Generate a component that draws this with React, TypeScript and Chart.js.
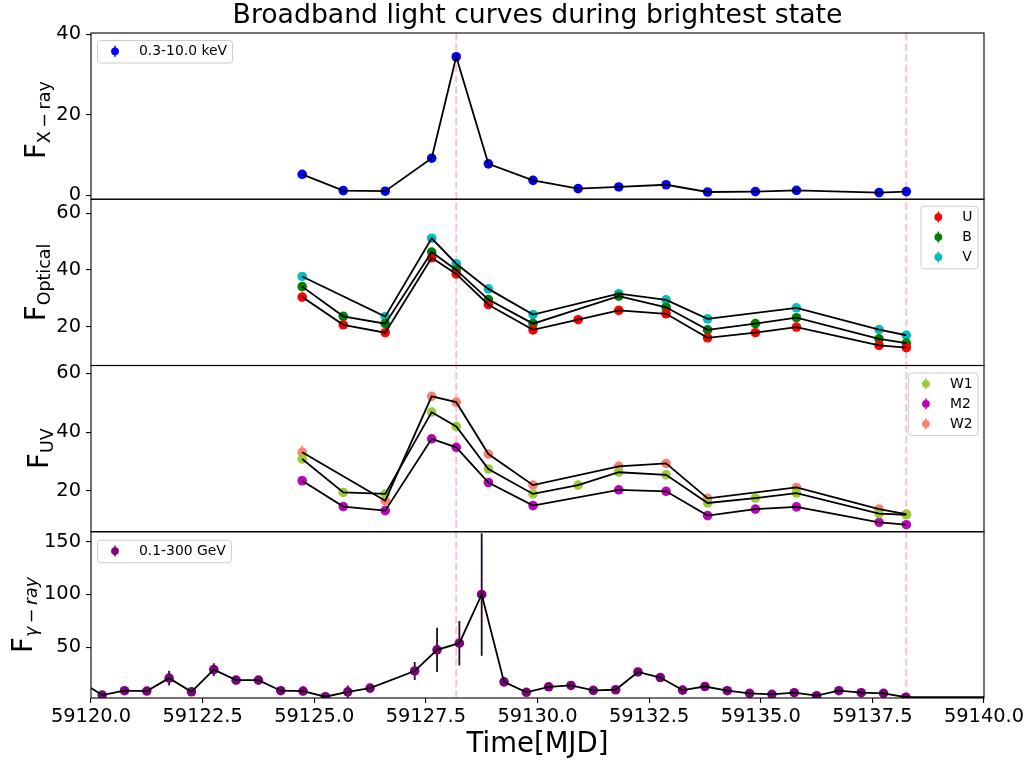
import React, { useEffect, useRef } from 'react';
import { Chart, registerables } from 'chart.js';

Chart.register(...registerables);

// ---------------- data ----------------
const chartTitle = 'Broadband light curves during brightest state';
const xTitle = 'Time[MJD]';
const xMin = 59120;
const xMax = 59140;
const xTicks = [59120, 59122.5, 59125, 59127.5, 59130, 59132.5, 59135, 59137.5, 59140];
const flareTimes = [59128.18, 59138.26];

// X-ray panel
const xrayLabel = '0.3-10.0 keV';
const xrayTicks = [0, 20, 40];
const xrayLimits = [-1.0, 40.3];
const xrayTime = [59124.73, 59125.65, 59126.59, 59127.63, 59128.18, 59128.9, 59129.9, 59130.91, 59131.82, 59132.88, 59133.81, 59134.88, 59135.8, 59137.65, 59138.26];
const xrayFlux = [5.2, 1.15, 1.0, 9.2, 34.4, 7.8, 3.7, 1.65, 2.05, 2.6, 0.8, 0.9, 1.2, 0.65, 0.9];

// Optical panel
const opticalTicks = [20, 40, 60];
const opticalLimits = [6.2, 65.0];
const uTime = [59124.73, 59125.65, 59126.59, 59127.63, 59128.18, 59128.9, 59129.9, 59130.91, 59131.82, 59132.88, 59133.81, 59134.88, 59135.8, 59137.65, 59138.26];
const uFlux = [30.4, 20.6, 17.8, 44.3, 38.6, 27.7, 18.8, 22.4, 25.7, 24.5, 16.0, 17.8, 19.8, 13.3, 12.5];
const bTime = [59124.73, 59125.65, 59126.59, 59127.63, 59128.18, 59128.9, 59129.9, 59131.82, 59132.88, 59133.81, 59134.88, 59135.8, 59137.65, 59138.26];
const bFlux = [34.1, 23.6, 21.0, 46.3, 40.0, 29.5, 21.0, 30.7, 26.8, 18.8, 21.0, 23.1, 15.6, 14.1];
const vTime = [59124.73, 59126.59, 59127.63, 59128.18, 59128.9, 59129.9, 59131.82, 59132.88, 59133.81, 59135.8, 59137.65, 59138.26];
const vFlux = [37.7, 23.5, 51.2, 42.2, 33.3, 24.2, 31.6, 29.4, 22.7, 26.6, 18.9, 16.9];

// UV panel
const uvTicks = [20, 40, 60];
const uvLimits = [6.0, 62.7];
const w1Time = [59124.73, 59125.65, 59126.59, 59127.63, 59128.18, 59128.9, 59129.9, 59130.91, 59131.82, 59132.88, 59133.81, 59134.88, 59135.8, 59137.65, 59138.26];
const w1Flux = [30.8, 19.4, 18.9, 46.8, 41.9, 27.4, 18.9, 21.9, 26.3, 25.4, 15.8, 17.5, 19.2, 12.2, 11.8];
const m2Time = [59124.73, 59125.65, 59126.59, 59127.63, 59128.18, 59128.9, 59129.9, 59131.82, 59132.88, 59133.81, 59134.88, 59135.8, 59137.65, 59138.26];
const m2Flux = [23.4, 14.6, 13.2, 37.7, 34.8, 22.8, 14.9, 20.3, 19.8, 11.5, 13.7, 14.5, 9.2, 8.4];
const w2Time = [59124.73, 59126.59, 59127.63, 59128.18, 59128.9, 59129.9, 59131.82, 59132.88, 59133.81, 59135.8, 59137.65, 59138.26];
const w2Flux = [33.1, 16.6, 52.2, 50.2, 32.5, 21.9, 28.3, 29.3, 17.4, 21.1, 13.7, 12.0];
const w2Err = [2.2, 0.6, 0.6, 0.6, 0.6, 0.5, 0.5, 0.5, 0.5, 0.5, 0.5, 0.5];

// Gamma-ray panel
const gammaLabel = '0.1-300 GeV';
const gammaTicks = [50, 100, 150];
const gammaLimits = [1.9, 159.4];
const gammaTime = [59119.75, 59120.25, 59120.75, 59121.25, 59121.75, 59122.25, 59122.75, 59123.25, 59123.75, 59124.25, 59124.75, 59125.25, 59125.75, 59126.25, 59127.25, 59127.75, 59128.25, 59128.75, 59129.25, 59129.75, 59130.25, 59130.75, 59131.25, 59131.75, 59132.25, 59132.75, 59133.25, 59133.75, 59134.25, 59134.75, 59135.25, 59135.75, 59136.25, 59136.75, 59137.25, 59137.75, 59138.25, 59140.75];
const gammaFlux = [18, 4.7, 8.8, 8.5, 20.7, 7.8, 28.8, 18.8, 18.8, 8.8, 8.5, 3.1, 7.8, 11.3, 27.5, 47.5, 53.8, 100, 17.2, 7.3, 12.5, 13.8, 9.1, 9.7, 26.6, 21.3, 9.4, 12.8, 8.8, 6.3, 5.4, 6.9, 4.1, 8.8, 6.9, 6.3, 2.6, 2.9];
const gammaErr = [2, 1, 1.5, 1.5, 7, 1.5, 6, 3, 3.5, 1, 4, 1, 6, 4, 8.6, 21, 21, 58, 2, 1, 1.5, 1.5, 1, 1, 2, 2, 1, 1.5, 1, 1, 1, 1, 1, 1.5, 1, 1, 0.5, 0.5];

// ---------------- styles ----------------
const FAMILY = '"DejaVu Sans", sans-serif';
const COLORS = {
  xray: '#0000ff', U: '#ff0000', B: '#008000', V: '#00bfbf',
  W1: '#9acd32', M2: '#bf00bf', W2: '#fa8072', gamma: '#800080',
};
const CANVAS_W = 1032;
const CANVAS_H = 764;

const pts = (t: number[], f: number[]) => t.map((x, i) => ({ x, y: f[i] }));

function markerSet(label: string, t: number[], f: number[], color: string, yAxisID: string, errors?: number[], errorColor?: string) {
  return {
    label, data: pts(t, f), yAxisID, showLine: false, order: 1,
    pointRadius: 4.8, pointHoverRadius: 4.8, pointBackgroundColor: color, pointBorderColor: color, pointBorderWidth: 0,
    borderColor: color, backgroundColor: color,
    errors, errorColor: errorColor || color,
  } as any;
}
function lineSet(t: number[], f: number[], yAxisID: string) {
  return {
    label: '', data: pts(t, f), yAxisID, showLine: true, order: 0,
    pointRadius: 0, pointHoverRadius: 0, borderColor: '#000', borderWidth: 1.8, fill: false, tension: 0,
  } as any;
}

function yScale(limits: number[], ticks: number[], weight: number) {
  return {
    type: 'linear', position: 'left', stack: 'panels', stackWeight: 1, weight,
    min: limits[0], max: limits[1],
    afterBuildTicks: (s: any) => { s.ticks = ticks.map((v) => ({ value: v })); },
    afterFit: (s: any) => { s.width = 91; },
    grid: { display: true, drawOnChartArea: false, drawTicks: true, tickLength: 5, color: '#000', lineWidth: 1.1 },
    border: { display: false },
    ticks: { color: '#000', font: { size: 19.4, family: FAMILY }, padding: 5, callback: (v: any) => String(v) },
  } as any;
}

function drawYLabel(ctx: CanvasRenderingContext2D, xBase: number, yCenter: number, main: string, sub: string, italic: boolean) {
  ctx.save();
  ctx.translate(xBase, yCenter);
  ctx.rotate(-Math.PI / 2);
  const mainFont = `27.5px ${FAMILY}`;
  const subFont = `${italic ? 'italic ' : ''}17.5px ${FAMILY}`;
  ctx.font = mainFont;
  const w1 = ctx.measureText(main).width;
  ctx.font = subFont;
  const w2 = ctx.measureText(sub).width;
  const start = -(w1 + w2) / 2;
  ctx.fillStyle = '#000';
  ctx.textAlign = 'left';
  ctx.textBaseline = 'alphabetic';
  ctx.font = mainFont;
  ctx.fillText(main, start, 0);
  ctx.font = subFont;
  ctx.fillText(sub, start + w1, 5);
  ctx.restore();
}

function roundRect(ctx: CanvasRenderingContext2D, x: number, y: number, w: number, h: number, r: number) {
  ctx.beginPath();
  ctx.moveTo(x + r, y);
  ctx.lineTo(x + w - r, y);
  ctx.arcTo(x + w, y, x + w, y + r, r);
  ctx.lineTo(x + w, y + h - r);
  ctx.arcTo(x + w, y + h, x + w - r, y + h, r);
  ctx.lineTo(x + r, y + h);
  ctx.arcTo(x, y + h, x, y + h - r, r);
  ctx.lineTo(x, y + r);
  ctx.arcTo(x, y, x + r, y, r);
  ctx.closePath();
}

function drawLegend(ctx: CanvasRenderingContext2D, anchorX: number, anchorY: number, alignRight: boolean, entries: { label: string; color: string }[]) {
  ctx.save();
  ctx.font = `13.9px ${FAMILY}`;
  const tw = Math.max(...entries.map((e) => ctx.measureText(e.label).width));
  const w = 47 + tw;
  const h = 20 * entries.length + 2.5;
  const x = alignRight ? anchorX - w : anchorX;
  const y = anchorY;
  roundRect(ctx, x + 0.5, y + 0.5, w, h, 3);
  ctx.fillStyle = 'rgba(255,255,255,0.8)';
  ctx.fill();
  ctx.strokeStyle = '#cccccc';
  ctx.lineWidth = 1;
  ctx.stroke();
  entries.forEach((e, i) => {
    const cy = y + 11.3 + i * 20;
    const mx = x + 18;
    ctx.strokeStyle = e.color;
    ctx.lineWidth = 1.5;
    ctx.beginPath();
    ctx.moveTo(mx, cy - 5.5);
    ctx.lineTo(mx, cy + 5.5);
    ctx.stroke();
    ctx.fillStyle = e.color;
    ctx.beginPath();
    ctx.arc(mx, cy, 3.9, 0, Math.PI * 2);
    ctx.fill();
    ctx.fillStyle = '#000';
    ctx.textAlign = 'left';
    ctx.textBaseline = 'middle';
    ctx.fillText(e.label, x + 42, cy + 0.5);
  });
  ctx.restore();
}

const panelDefs = [
  { id: 'yX', sub: 'X\u2009\u2212\u2009ray', italic: false, base: 45, shift: 4 },
  { id: 'yO', sub: 'Optical', italic: false, base: 45, shift: 0 },
  { id: 'yU', sub: 'UV', italic: false, base: 48, shift: 0 },
  { id: 'yG', sub: '\u03b3\u2009\u2212\u2009ray', italic: true, base: 32, shift: 0 },
];

const overlayPlugin = {
  id: 'overlay',
  beforeDatasetsDraw(chart: any) {
    const ctx: CanvasRenderingContext2D = chart.ctx;
    const { left, right, top, bottom } = chart.chartArea;
    const xs = chart.scales.x;
    ctx.save();
    ctx.strokeStyle = '#ffc0cb';
    ctx.lineWidth = 2;
    ctx.setLineDash([7.4, 3.2]);
    for (const v of flareTimes) {
      const px = xs.getPixelForValue(v);
      ctx.beginPath();
      ctx.moveTo(px, top);
      ctx.lineTo(px, bottom);
      ctx.stroke();
    }
    ctx.restore();
    chart.data.datasets.forEach((ds: any) => {
      if (!ds.errors) return;
      const ys = chart.scales[ds.yAxisID];
      ctx.save();
      ctx.beginPath();
      ctx.rect(left, ys.top, right - left, ys.bottom - ys.top);
      ctx.clip();
      ctx.strokeStyle = ds.errorColor;
      ctx.lineWidth = 1.8;
      ds.data.forEach((p: any, j: number) => {
        const e = ds.errors[j];
        const px = xs.getPixelForValue(p.x);
        ctx.beginPath();
        ctx.moveTo(px, ys.getPixelForValue(p.y - e));
        ctx.lineTo(px, ys.getPixelForValue(p.y + e));
        ctx.stroke();
      });
      ctx.restore();
    });
  },
  afterDraw(chart: any) {
    const ctx: CanvasRenderingContext2D = chart.ctx;
    const { left, right } = chart.chartArea;
    // panel frames
    ctx.save();
    ctx.strokeStyle = '#000';
    ctx.lineWidth = 1.1;
    panelDefs.forEach((p) => {
      const ys = chart.scales[p.id];
      ctx.strokeRect(left, ys.top, right - left, ys.bottom - ys.top);
    });
    ctx.restore();
    // y labels
    panelDefs.forEach((p) => {
      const ys = chart.scales[p.id];
      drawYLabel(ctx, p.base, (ys.top + ys.bottom) / 2 + p.shift, 'F', p.sub, p.italic);
    });
    // legends
    const sx = chart.scales.yX, so = chart.scales.yO, su = chart.scales.yU, sg = chart.scales.yG;
    drawLegend(ctx, left + 6, sx.top + 7, false, [{ label: xrayLabel, color: COLORS.xray }]);
    drawLegend(ctx, right - 6.5, so.top + 6.5, true, [
      { label: 'U', color: COLORS.U }, { label: 'B', color: COLORS.B }, { label: 'V', color: COLORS.V },
    ]);
    drawLegend(ctx, right - 6.5, su.top + 7, true, [
      { label: 'W1', color: COLORS.W1 }, { label: 'M2', color: COLORS.M2 }, { label: 'W2', color: COLORS.W2 },
    ]);
    drawLegend(ctx, left + 6, sg.top + 8, false, [{ label: gammaLabel, color: COLORS.gamma }]);
    // titles
    ctx.save();
    ctx.fillStyle = '#000';
    ctx.textAlign = 'center';
    ctx.textBaseline = 'middle';
    ctx.font = `26.7px ${FAMILY}`;
    ctx.fillText(chartTitle, (left + right) / 2, 16);
    ctx.font = `27.5px ${FAMILY}`;
    ctx.fillText(xTitle, (left + right) / 2, 745);
    ctx.restore();
  },
};

export default function App() {
  const canvasRef = useRef<HTMLCanvasElement | null>(null);

  useEffect(() => {
    if (!canvasRef.current) return;
    const datasets = [
      markerSet('X-ray', xrayTime, xrayFlux, COLORS.xray, 'yX'),
      lineSet(xrayTime, xrayFlux, 'yX'),
      markerSet('U', uTime, uFlux, COLORS.U, 'yO'),
      markerSet('B', bTime, bFlux, COLORS.B, 'yO'),
      markerSet('V', vTime, vFlux, COLORS.V, 'yO'),
      lineSet(uTime, uFlux, 'yO'),
      lineSet(bTime, bFlux, 'yO'),
      lineSet(vTime, vFlux, 'yO'),
      markerSet('W1', w1Time, w1Flux, COLORS.W1, 'yU'),
      markerSet('M2', m2Time, m2Flux, COLORS.M2, 'yU'),
      markerSet('W2', w2Time, w2Flux, COLORS.W2, 'yU', w2Err),
      lineSet(w1Time, w1Flux, 'yU'),
      lineSet(m2Time, m2Flux, 'yU'),
      lineSet(w2Time, w2Flux, 'yU'),
      markerSet('gamma', gammaTime, gammaFlux, COLORS.gamma, 'yG', gammaErr, '#220a22'),
      lineSet(gammaTime, gammaFlux, 'yG'),
    ];
    const chart = new Chart(canvasRef.current, {
      type: 'line',
      data: { datasets },
      options: {
        responsive: false,
        devicePixelRatio: 1,
        animation: false,
        events: [],
        layout: { padding: { top: 33, right: CANVAS_W - 984, bottom: 0, left: 0 } },
        plugins: { legend: { display: false }, tooltip: { enabled: false }, title: { display: false } },
        scales: {
          x: {
            type: 'linear', position: 'bottom', min: xMin, max: xMax,
            afterBuildTicks: (s: any) => { s.ticks = xTicks.map((v) => ({ value: v })); },
            afterFit: (s: any) => { s.height = CANVAS_H - 698; },
            grid: { display: true, drawOnChartArea: false, drawTicks: true, tickLength: 5, color: '#000', lineWidth: 1.1 },
            border: { display: false },
            ticks: { color: '#000', font: { size: 19.4, family: FAMILY }, padding: 2, maxRotation: 0, autoSkip: false, callback: (v: any) => Number(v).toFixed(1) },
          },
          yX: yScale(xrayLimits, xrayTicks, 4),
          yO: yScale(opticalLimits, opticalTicks, 3),
          yU: yScale(uvLimits, uvTicks, 2),
          yG: yScale(gammaLimits, gammaTicks, 1),
        } as any,
      },
      plugins: [overlayPlugin as any],
    });
    return () => chart.destroy();
  }, []);

  return (
    <div style={{ position: 'absolute', left: 0, top: 0, width: CANVAS_W, height: CANVAS_H, background: '#fff' }}>
      <canvas ref={canvasRef} width={CANVAS_W} height={CANVAS_H} style={{ display: 'block' }} />
    </div>
  );
}
